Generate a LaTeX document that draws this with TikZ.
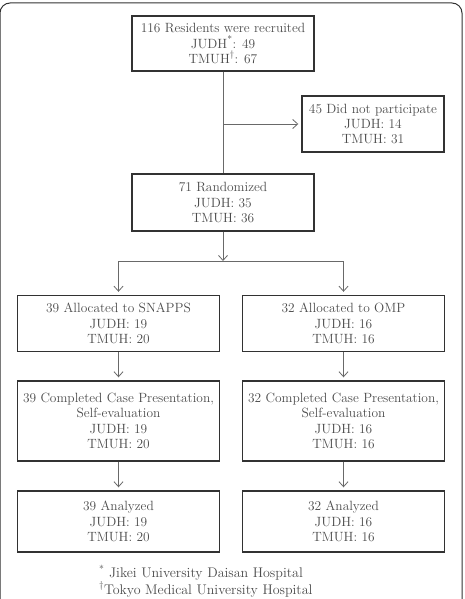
\documentclass[tikz,border=0pt]{standalone}
\usepackage{tikz}
\usetikzlibrary{arrows.meta,positioning,calc}

\definecolor{boxline}{RGB}{50,50,50}
\definecolor{txtgray}{RGB}{75,75,75}
\definecolor{linegray}{RGB}{105,105,105}

\begin{document}
\begin{tikzpicture}[
        x=1pt, y=-1pt,
        font=\fontsize{13.4}{15.2}\selectfont,
        >={Straight Barb[length=5pt,width=9pt]},
        box/.style={draw=boxline, line width=1.4pt, rectangle, minimum width=182pt, minimum height=56pt, align=center, text=txtgray, inner sep=1pt},
        widebox/.style={box, minimum width=202pt},
        flowline/.style={draw=linegray, line width=0.8pt},
        flowarrow/.style={->, flowline, shorten >=3pt}
    ]
    \useasboundingbox (0,0) rectangle (465,599);

    % Outer frame
    \begin{scope}
        \clip (0,0) rectangle (465,599);
        \draw[boxline, line width=1pt, rounded corners=10pt] (0,3) rectangle (462,640);
    \end{scope}

    % Top part
    \node[box, minimum height=55pt] (recruit) at (223,43.5) {116 Residents were recruited\\JUDH\textsuperscript{*}: 49\\TMUH\textsuperscript{\dag}: 67};
    \node[box, minimum width=142pt] (noparti) at (373,124) {45 Did not participate\\JUDH: 14\\TMUH: 31};
    \node[box, minimum height=57pt] (random) at (223,202.5) {71 Randomized\\JUDH: 35\\TMUH: 36};

    % Two arms
    \node[widebox] (snapps) at (118.5,323.5) {39 Allocated to SNAPPS\\JUDH: 19\\TMUH: 20};
    \node[widebox] (omp) at (343.5,323.5) {32 Allocated to OMP\\JUDH: 16\\TMUH: 16};
    \node[widebox, minimum height=80pt] (compa) at (118.5,421) {39 Completed Case Presentation,\\Self-evaluation\\JUDH: 19\\TMUH: 20};
    \node[widebox, minimum height=80pt] (compb) at (343.5,421) {32 Completed Case Presentation,\\Self-evaluation\\JUDH: 16\\TMUH: 16};
    \node[widebox, minimum height=61pt] (anaa) at (118.5,521.5) {39 Analyzed\\JUDH: 19\\TMUH: 20};
    \node[widebox, minimum height=61pt] (anab) at (343.5,521.5) {32 Analyzed\\JUDH: 16\\TMUH: 16};

    % Footnotes
    \node[anchor=west, align=left, text=txtgray, inner sep=0pt, font=\fontsize{14}{16.5}\selectfont] (notes) at (99,581) {\textsuperscript{*} Jikei University Daisan Hospital\\\textsuperscript{\dag}Tokyo Medical University Hospital};

    % Connections
    \draw[flowline] (recruit.south) -- (random.north);
    \coordinate (side) at (recruit.south |- noparti.west);
    \draw[flowarrow] (side) -- (noparti.west);

    \coordinate (split) at (223,261);
    \draw[flowarrow, shorten >=0pt] (random.south) -- (split);
    \draw[flowline] (split -| snapps) -- (split -| omp);
    \draw[flowarrow] (split -| snapps) -- (snapps.north);
    \draw[flowarrow] (split -| omp) -- (omp.north);

    \draw[flowarrow] (snapps.south) -- (compa.north);
    \draw[flowarrow] (omp.south) -- (compb.north);
    \draw[flowarrow] (compa.south) -- (anaa.north);
    \draw[flowarrow] (compb.south) -- (anab.north);

\end{tikzpicture}
\end{document}
